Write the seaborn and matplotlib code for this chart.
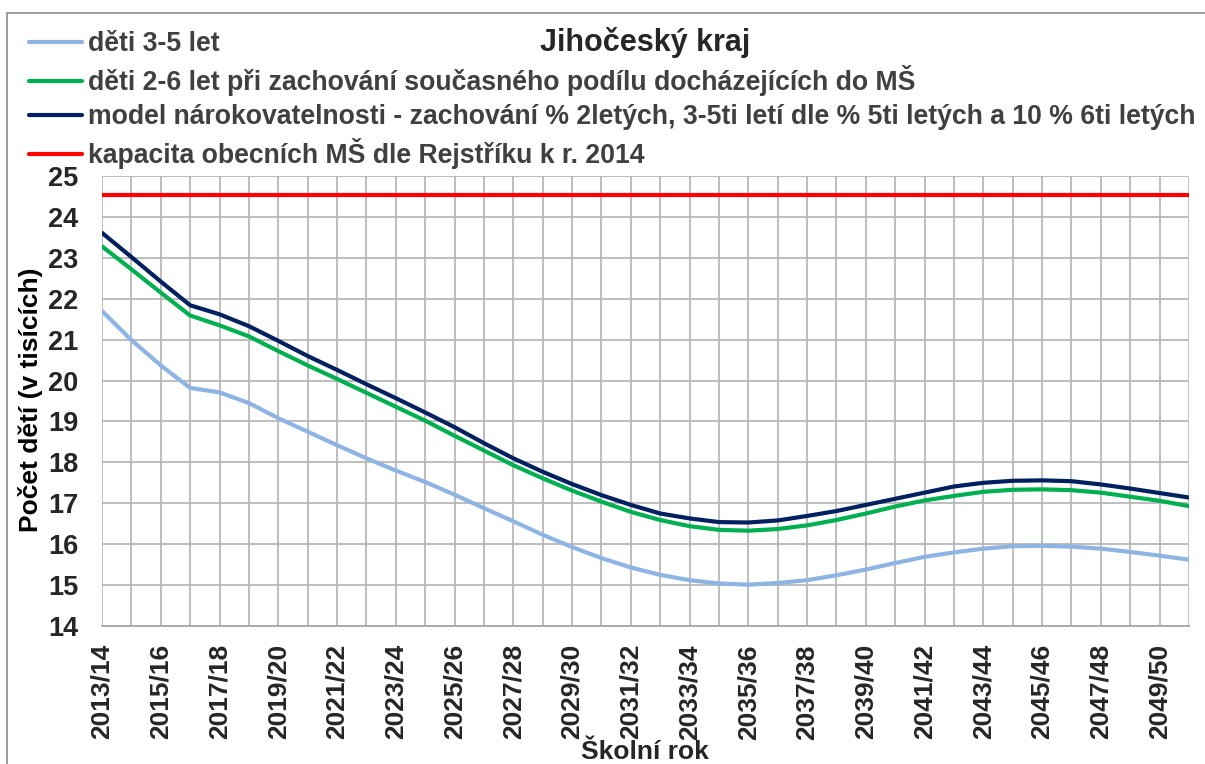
import matplotlib
matplotlib.use("Agg")
import matplotlib.pyplot as plt
import seaborn as sns
import pandas as pd
from matplotlib.patches import Rectangle

school_years = ["2013/14", "2014/15", "2015/16", "2016/17", "2017/18", "2018/19", "2019/20",
                "2020/21", "2021/22", "2022/23", "2023/24", "2024/25", "2025/26", "2026/27",
                "2027/28", "2028/29", "2029/30", "2030/31", "2031/32", "2032/33", "2033/34",
                "2034/35", "2035/36", "2036/37", "2037/38", "2038/39", "2039/40", "2040/41",
                "2041/42", "2042/43", "2043/44", "2044/45", "2045/46", "2046/47", "2047/48",
                "2048/49", "2049/50", "2050/51"]

deti_3_5 = [21.70, 20.99, 20.37, 19.82, 19.71, 19.45, 19.08, 18.75, 18.42, 18.10,
            17.80, 17.52, 17.21, 16.88, 16.56, 16.23, 15.93, 15.66, 15.43, 15.25,
            15.12, 15.04, 15.01, 15.05, 15.12, 15.24, 15.38, 15.54, 15.69, 15.80,
            15.89, 15.95, 15.96, 15.94, 15.89, 15.81, 15.72, 15.62]

deti_2_6 = [23.28, 22.72, 22.15, 21.59, 21.35, 21.08, 20.72, 20.37, 20.04, 19.70,
            19.36, 19.02, 18.65, 18.29, 17.93, 17.61, 17.31, 17.04, 16.79, 16.59,
            16.44, 16.35, 16.33, 16.37, 16.46, 16.59, 16.75, 16.92, 17.07, 17.18,
            17.28, 17.33, 17.34, 17.32, 17.26, 17.16, 17.06, 16.93]

model = [23.61, 23.02, 22.42, 21.84, 21.62, 21.33, 20.97, 20.60, 20.26, 19.91,
         19.57, 19.22, 18.86, 18.47, 18.10, 17.77, 17.47, 17.20, 16.96, 16.75,
         16.63, 16.54, 16.53, 16.58, 16.69, 16.81, 16.96, 17.11, 17.26, 17.41,
         17.50, 17.55, 17.56, 17.54, 17.46, 17.36, 17.25, 17.14]

kapacita_value = 24.54
kapacita = [kapacita_value] * len(school_years)

labels = ["děti 3-5 let",
          "děti 2-6 let při zachování současného podílu docházejících do MŠ",
          "model nárokovatelnosti - zachování % 2letých, 3-5ti letí dle % 5ti letých a 10 % 6ti letých",
          "kapacita obecních MŠ dle Rejstříku k r. 2014"]
colors = ["#8DB4E2", "#00B050", "#002060", "#FF0000"]
series = [deti_3_5, deti_2_6, model, kapacita]

title = "Jihočeský kraj"
ylabel = "Počet dětí (v tisících)"
xlabel = "Školní rok"
yticks = list(range(14, 26))

sns.set_theme(style="white")
plt.rcParams["font.family"] = ["Liberation Sans", "DejaVu Sans"]
plt.rcParams["font.weight"] = "bold"

W, H = 1205, 764
fig = plt.figure(figsize=(W / 100, H / 100), dpi=100)
ax = fig.add_axes([102 / W, 1 - 626 / H, (1189 - 102) / W, (626 - 176) / H])

xpos = list(range(len(school_years)))
rows = []
for lab, vals in zip(labels, series):
    for x, v in zip(xpos, vals):
        rows.append({"x": x, "value": v, "series": lab})
df = pd.DataFrame(rows)

draw_order = [3, 0, 1, 2]
for k in draw_order:
    sub = df[df["series"] == labels[k]]
    sns.lineplot(data=sub, x="x", y="value", ax=ax, color=colors[k], linewidth=3.0,
                 label=labels[k], legend=False, zorder=3 + k)

ax.set_xlim(0, len(school_years) - 1)
ax.set_ylim(14, 25)
ax.set_yticks(yticks)
ax.set_yticklabels([str(t) for t in yticks], fontsize=19.5, fontweight="bold", color="#262626")
ax.set_xticks(xpos, minor=True)
ax.set_xticks(xpos[::2])
ax.set_xticklabels(school_years[::2], rotation=90, fontsize=19, fontweight="bold", color="#262626")
ax.tick_params(axis="both", which="both", length=0)
ax.tick_params(axis="y", pad=17)
ax.tick_params(axis="x", pad=13)

ax.grid(True, which="both", axis="x", color="#b3b3b3", linewidth=1.2)
ax.grid(True, which="major", axis="y", color="#b3b3b3", linewidth=1.2)
for s in ["top", "right", "left"]:
    ax.spines[s].set_visible(False)
ax.spines["bottom"].set_color("#a6a6a6")
ax.spines["bottom"].set_linewidth(1.3)

ax.set_xlabel(xlabel, fontsize=19, fontweight="bold", color="#262626")
ax.set_ylabel(ylabel, fontsize=19, fontweight="bold", color="#000000")
ax.xaxis.set_label_coords((645 - 102) / (1189 - 102), -(752 - 626) / (626 - 176))
ax.yaxis.set_label_coords(-(102 - 31) / (1189 - 102), (626 - 400) / (626 - 176))
ax.xaxis.label.set_va("center")
ax.yaxis.label.set_va("center")

handles, labs = ax.get_legend_handles_labels()
order = [labs.index(l) for l in labels]
leg = fig.legend([handles[i] for i in order], [labs[i] for i in order],
                 loc="upper left", bbox_to_anchor=(29 / W, 1 - 31 / H),
                 frameon=False, fontsize=19.2, handlelength=2.0, handletextpad=0.2,
                 labelspacing=0.30, borderpad=0, borderaxespad=0)
for t in leg.get_texts():
    t.set_color("#404040")
    t.set_fontweight("bold")

fig.text(645 / W, 1 - 42 / H, title, ha="center", va="center", fontsize=22,
         fontweight="bold", color="#262626")

fig.add_artist(Rectangle((7 / W, -0.02), 1.2, 1 - 13 / H + 0.02, transform=fig.transFigure,
                         fill=False, edgecolor="#8c8c8c", linewidth=1.2))

fig.savefig("out.png", dpi=100)
